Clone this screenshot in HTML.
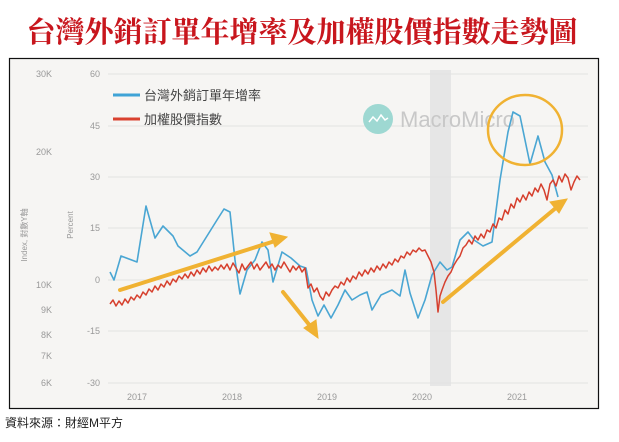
<!DOCTYPE html>
<html><head><meta charset="utf-8"><style>
body{margin:0;width:619px;height:437px;background:#fff;overflow:hidden;font-family:"Liberation Sans","Noto Sans CJK TC",sans-serif}
</style></head><body>
<svg width="619" height="437" xmlns="http://www.w3.org/2000/svg" font-family="Liberation Sans, Noto Sans CJK TC, sans-serif">
<text x="302" y="42" text-anchor="middle" font-family="Liberation Serif, Noto Serif CJK SC, serif" font-weight="bold" font-size="29" fill="#c8161d">台灣外銷訂單年增率及加權股價指數走勢圖</text>
<rect x="9.5" y="58.5" width="589" height="350" fill="#f6f5f3" stroke="#111" stroke-width="1.2"/>
<rect x="430" y="70" width="21" height="316" fill="#e6e6e6"/>
<g stroke="#e2e2e2" stroke-width="1">
<line x1="108" y1="74" x2="588" y2="74"/><line x1="108" y1="126" x2="588" y2="126"/><line x1="108" y1="177" x2="588" y2="177"/><line x1="108" y1="228" x2="588" y2="228"/><line x1="108" y1="280" x2="588" y2="280"/><line x1="108" y1="331" x2="588" y2="331"/><line x1="108" y1="383" x2="588" y2="383"/>
</g>
<g font-size="9" fill="#999" text-anchor="end">
<text x="100" y="77">60</text><text x="100" y="129">45</text><text x="100" y="180">30</text><text x="100" y="231">15</text><text x="100" y="283">0</text><text x="100" y="334">-15</text><text x="100" y="386">-30</text>
<text x="52" y="77">30K</text><text x="52" y="155">20K</text><text x="52" y="288">10K</text><text x="52" y="313">9K</text><text x="52" y="338">8K</text><text x="52" y="359">7K</text><text x="52" y="386">6K</text>
</g>
<g font-size="9" fill="#999" text-anchor="middle">
<text x="137" y="400">2017</text><text x="232" y="400">2018</text><text x="327" y="400">2019</text><text x="422" y="400">2020</text><text x="517" y="400">2021</text>
</g>
<text transform="translate(27,235) rotate(-90)" font-size="8" fill="#999" text-anchor="middle">Index, 對數Y軸</text>
<text transform="translate(73,225) rotate(-90)" font-size="8" fill="#999" text-anchor="middle">Percent</text>
<circle cx="378" cy="119" r="15" fill="#9ed8d2"/>
<path d="M369 122 l4 -5 l4 4 l4 -6 l4 5 l3 -2" stroke="#fff" stroke-width="1.5" fill="none"/>
<text x="400" y="127" font-size="22" fill="#c8c8c8">MacroMicro</text>
<line x1="113" y1="95" x2="140" y2="95" stroke="#3fa3d6" stroke-width="3"/>
<text x="144" y="100" font-size="13" fill="#444">台灣外銷訂單年增率</text>
<line x1="113" y1="119" x2="140" y2="119" stroke="#d9412f" stroke-width="3"/>
<text x="144" y="124" font-size="13" fill="#444">加權股價指數</text>
<polyline fill="none" stroke="#4aa6d3" stroke-width="1.6" stroke-linejoin="round" points="110,272 114,280 121,256 137,262 146,206 155,238 163,226 173,236 178,246 190,256 197,252 207,236 217,220 224,209 230,212 235,260 240,294 247,270 255,260 262,242 268,250 273,282 282,252 291,258 300,266 306,268 312,300 318,316 324,305 331,318 338,305 345,290 352,300 360,295 367,292 372,310 381,295 392,290 400,296 405,270 410,293 418,318 425,300 432,275 440,262 447,270 452,267 460,240 468,232 474,240 483,246 492,242 500,180 508,132 513,112 520,116 530,164 538,136 545,162 552,175 558,197"/>
<polyline fill="none" stroke="#d6402e" stroke-width="1.5" stroke-linejoin="round" points="110,304 113,300 116,306 119,301 122,305 125,299 128,303 131,297 134,300 137,295 140,298 143,292 146,295 149,289 152,292 155,286 158,290 161,284 164,287 167,281 170,285 173,279 176,282 179,276 182,279 185,274 188,278 191,272 194,276 197,270 200,274 203,268 206,272 209,266 212,271 215,267 218,270 221,265 224,269 227,264 230,270 233,263 236,268 239,273 242,264 245,270 248,266 251,262 254,269 257,264 260,270 263,266 266,262 269,268 272,264 275,270 278,265 281,268 284,262 287,267 290,272 293,266 296,270 299,266 302,272 305,268 308,288 311,284 314,292 317,288 320,296 323,300 326,292 329,296 332,290 335,286 338,288 341,282 344,285 347,278 350,282 353,276 356,279 359,272 362,276 365,270 368,274 371,268 374,272 377,266 380,270 383,264 386,268 389,262 392,265 395,259 398,262 401,256 404,258 407,252 410,255 413,250 416,252 419,248 422,251 425,250 428,256 431,262 434,272 436,290 438,312 440,296 442,290 445,282 448,276 451,272 454,265 457,260 460,256 463,248 466,245 469,240 472,244 475,236 478,240 481,234 484,238 487,230 490,232 493,224 496,228 499,218 502,220 505,210 508,214 511,204 514,208 517,198 520,202 523,195 526,200 529,192 532,196 535,188 538,192 541,184 544,190 547,200 550,184 553,180 556,186 559,176 562,182 565,174 568,178 571,190 574,182 577,176 580,180"/>
<g stroke="#f0b232" stroke-width="4" fill="#f0b232" stroke-linecap="round">
<line x1="120" y1="290" x2="275" y2="241"/><polygon points="287,237 270,233 275,247" stroke-width="1"/>
<line x1="283" y1="292" x2="311" y2="327"/><polygon points="318,338 304,328 316,320" stroke-width="1"/>
<line x1="443" y1="302" x2="557" y2="207"/><polygon points="567,199 550,202 559,213" stroke-width="1"/>
</g>
<ellipse cx="525" cy="130" rx="37" ry="35" fill="none" stroke="#f0b232" stroke-width="2.5"/>
<text x="5" y="427" font-size="12" fill="#222">資料來源：財經M平方</text>
</svg>
</body></html>
